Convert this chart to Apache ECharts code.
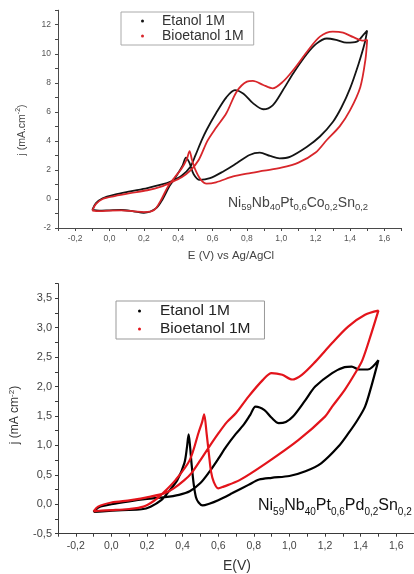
<!DOCTYPE html>
<html>
<head>
<meta charset="utf-8">
<script src="https://cdn.jsdelivr.net/npm/echarts@6/dist/echarts.min.js"></script>
<style>
  html, body { margin: 0; padding: 0; background: #fff; overflow: hidden; }
  #top { position: absolute; left: 0; top: 0; width: 414px; height: 262px; filter: blur(0.4px); }
  #bot { position: absolute; left: 0; top: 262px; width: 414px; height: 312px; }
</style>
</head>
<body>
<div id="top"></div>
<div id="bot"></div>
<script>
// ---- Cyclic voltammograms: Ni59Nb40Pt0,6Co0,2Sn0,2 (upper panel) ----
const coEtanolE = [-0.10,-0.08,-0.04,0.03,0.12,0.22,0.30,0.36,0.42,0.47,0.50,0.535,0.565,0.62,0.68,0.73,0.78,0.835,0.895,0.95,1.01,1.07,1.15,1.205,1.265,1.32,1.38,1.44,1.478,1.50,
  1.485,1.45,1.40,1.35,1.30,1.225,1.15,1.05,0.99,0.935,0.875,0.815,0.74,0.66,0.585,0.525,0.49,0.465,0.445,0.425,0.39,0.35,0.31,0.27,0.20,0.14,0.07,0.0,-0.06,-0.10];
const coEtanolJ = [-0.75,-0.30,0.05,0.30,0.52,0.75,0.98,1.22,1.60,2.20,3.0,4.0,4.75,5.9,7.0,7.5,7.25,6.6,6.18,6.45,7.5,8.66,10.0,10.7,11.05,10.95,10.76,10.83,11.3,11.6,
  10.7,9.3,7.6,6.3,5.3,4.3,3.6,2.9,2.8,2.96,3.19,3.03,2.46,1.88,1.43,1.31,1.7,2.5,2.85,2.3,1.6,0.9,0.0,-0.65,-0.95,-0.85,-0.76,-0.78,-0.8,-0.75];

const coBioE = [-0.10,-0.08,-0.04,0.03,0.12,0.22,0.30,0.36,0.42,0.47,0.52,0.57,0.62,0.68,0.74,0.80,0.835,0.895,0.95,1.01,1.07,1.15,1.225,1.30,1.36,1.42,1.478,1.50,
  1.49,1.46,1.40,1.34,1.265,1.20,1.10,1.0,0.90,0.80,0.72,0.62,0.565,0.53,0.50,0.48,0.466,0.45,0.42,0.38,0.34,0.30,0.26,0.20,0.145,0.07,0.0,-0.06,-0.10];
const coBioJ = [-0.80,-0.35,0.0,0.20,0.40,0.60,0.85,1.15,1.50,1.95,2.70,4.0,4.9,5.9,7.39,8.08,8.13,7.85,7.62,8.08,8.88,10.14,11.18,11.52,11.45,11.14,10.9,10.95,
  9.6,7.7,6.1,5.0,4.06,3.2,2.5,2.15,1.95,1.75,1.55,1.15,1.06,1.35,2.0,2.7,3.3,2.75,2.1,1.5,0.85,-0.07,-0.76,-0.9,-0.85,-0.78,-0.8,-0.84,-0.8];

// ---- Cyclic voltammograms: Ni59Nb40Pt0,6Pd0,2Sn0,2 (lower panel) ----
const pdEtanolE = [-0.10,-0.07,0.0,0.10,0.20,0.30,0.38,0.44,0.50,0.55,0.60,0.645,0.70,0.74,0.78,0.81,0.86,0.90,0.94,0.98,1.02,1.09,1.145,1.24,1.31,1.35,1.39,1.44,1.50,
  1.46,1.425,1.38,1.33,1.275,1.18,1.09,1.0,0.90,0.83,0.77,0.68,0.60,0.55,0.512,0.49,0.475,0.462,0.45,0.442,0.434,0.425,0.41,0.37,0.32,0.28,0.22,0.17,0.06,-0.05,-0.10];
const pdEtanolJ = [-0.13,-0.05,0.0,0.05,0.09,0.12,0.16,0.22,0.36,0.55,0.77,0.98,1.20,1.34,1.52,1.66,1.60,1.47,1.38,1.40,1.49,1.77,2.0,2.23,2.33,2.34,2.29,2.29,2.45,
  2.0,1.66,1.42,1.2,0.98,0.7,0.56,0.48,0.45,0.42,0.33,0.19,0.07,0.01,-0.02,0.03,0.12,0.35,0.7,0.98,1.19,0.98,0.70,0.41,0.21,0.07,-0.04,-0.085,-0.10,-0.12,-0.13];

const pdBioE = [-0.10,-0.075,0.0,0.11,0.22,0.30,0.35,0.41,0.45,0.50,0.55,0.60,0.65,0.70,0.77,0.85,0.90,0.96,1.015,1.07,1.145,1.24,1.33,1.425,1.50,
  1.46,1.41,1.37,1.31,1.24,1.20,1.05,0.87,0.72,0.63,0.60,0.575,0.56,0.548,0.535,0.521,0.51,0.49,0.44,0.36,0.29,0.24,0.18,0.10,0.0,-0.07,-0.10];
const pdBioJ = [-0.12,-0.04,0.03,0.07,0.13,0.19,0.27,0.41,0.53,0.75,0.98,1.2,1.4,1.55,1.83,2.11,2.23,2.2,2.12,2.2,2.42,2.74,3.02,3.22,3.29,
  2.9,2.45,2.23,1.94,1.66,1.49,1.09,0.70,0.41,0.30,0.27,0.38,0.55,0.85,1.2,1.53,1.4,1.22,0.75,0.41,0.19,0.06,-0.04,-0.08,-0.10,-0.11,-0.12];

// ---- Tick label values ----
const potentialTicks = [-0.2, 0.0, 0.2, 0.4, 0.6, 0.8, 1.0, 1.2, 1.4, 1.6];
const coCurrentTicks = [-2, 0, 2, 4, 6, 8, 10, 12];
const pdCurrentTicks = [-0.5, 0.0, 0.5, 1.0, 1.5, 2.0, 2.5, 3.0, 3.5];

const seriesNames = ['Etanol 1M', 'Bioetanol 1M'];

const FONT = '"Liberation Sans", Arial, Helvetica, sans-serif';
const comma = v => v.toFixed(1).replace('.', ',');
const pairs = (E, J) => E.map((e, i) => [e, J[i]]);

function axisBase(color) {
  return {
    type: 'value',
    axisLine: { show: true, onZero: false, lineStyle: { color: color, width: 1 } },
    axisTick: { show: true, inside: false, length: 3, lineStyle: { color: color, width: 1 } },
    splitLine: { show: false }
  };
}

function loopSeries(name, data, color, width) {
  return {
    name: name,
    type: 'line',
    data: data,
    showSymbol: false,
    smooth: 0.3,
    lineStyle: { color: color, width: width },
    itemStyle: { color: color },
    emphasis: { disabled: true },
    z: 3
  };
}

// ---------- upper panel ----------
const topChart = echarts.init(document.getElementById('top'), null, { renderer: 'canvas' });
topChart.setOption({
  animation: false,
  textStyle: { fontFamily: FONT },
  grid: { left: 58, top: 10.2, width: 343.5, height: 217.8 },
  xAxis: Object.assign(axisBase('#4a4a4a'), {
    min: -0.3, max: 1.7, interval: 0.1,
    axisLabel: { customValues: potentialTicks, formatter: comma, fontSize: 8.5, color: '#555', margin: 6, fontFamily: FONT }
  }),
  yAxis: Object.assign(axisBase('#4a4a4a'), {
    min: -2, max: 13, interval: 1,
    axisLabel: { customValues: coCurrentTicks, formatter: v => String(v), fontSize: 8.5, color: '#555', margin: 7, fontFamily: FONT }
  }),
  legend: {
    data: seriesNames,
    orient: 'vertical',
    left: 121, top: 12,
    padding: [2, 10, 2, 20],
    itemGap: 1,
    itemWidth: 3, itemHeight: 3,
    icon: 'circle',
    borderColor: '#aaa', borderWidth: 1,
    selectedMode: false,
    textStyle: { fontSize: 14, color: '#333', fontFamily: FONT, padding: [0, 0, 0, 13] }
  },
  series: [
    loopSeries(seriesNames[0], pairs(coEtanolE, coEtanolJ), '#141414', 1.8),
    loopSeries(seriesNames[1], pairs(coBioE, coBioJ), '#d8262b', 1.8)
  ],
  graphic: [
    {
      type: 'text', left: 228, top: 196,
      style: {
        text: '{m|Ni}{s|59}{m|Nb}{s|40}{m|Pt}{s|0,6}{m|Co}{s|0,2}{m|Sn}{s|0,2}',
        fill: '#444', fontFamily: FONT,
        rich: {
          m: { fontSize: 14, lineHeight: 18, fill: '#444', fontFamily: FONT },
          s: { fontSize: 9.5, lineHeight: 6, verticalAlign: 'bottom', fill: '#444', fontFamily: FONT }
        }
      }
    },
    {
      type: 'text', x: 231, y: 256,
      style: { text: 'E (V) vs Ag/AgCl', fontSize: 11.5, fill: '#444', fontFamily: FONT, align: 'center', verticalAlign: 'middle' }
    },
    {
      type: 'text', x: 22, y: 130, rotation: Math.PI / 2,
      style: {
        text: '{m|j (mA.cm}{p|-2}{m|)}',
        align: 'center', verticalAlign: 'middle', fontFamily: FONT,
        rich: {
          m: { fontSize: 10.5, lineHeight: 14, fill: '#444', fontFamily: FONT },
          p: { fontSize: 7, lineHeight: 8, verticalAlign: 'top', fill: '#444', fontFamily: FONT }
        }
      }
    }
  ]
});

// ---------- lower panel ----------
const botChart = echarts.init(document.getElementById('bot'), null, { renderer: 'canvas' });
botChart.setOption({
  animation: false,
  textStyle: { fontFamily: FONT },
  grid: { left: 58, top: 21.6, width: 358, height: 250.1 },
  xAxis: Object.assign(axisBase('#3a3a3a'), {
    min: -0.3, max: 1.7, interval: 0.1,
    axisLabel: { customValues: potentialTicks, formatter: comma, fontSize: 10.5, color: '#444', margin: 7, fontFamily: FONT }
  }),
  yAxis: Object.assign(axisBase('#3a3a3a'), {
    min: -0.5, max: 3.75, interval: 0.25,
    axisLabel: { customValues: pdCurrentTicks, formatter: comma, fontSize: 11, color: '#444', margin: 6, fontFamily: FONT }
  }),
  legend: {
    data: seriesNames,
    orient: 'vertical',
    left: 116, top: 39,
    padding: [2, 14, 2, 22],
    itemGap: 2,
    itemWidth: 3, itemHeight: 3,
    icon: 'circle',
    borderColor: '#999', borderWidth: 1,
    selectedMode: false,
    textStyle: { fontSize: 15.5, color: '#222', fontFamily: FONT, padding: [0, 0, 0, 14] }
  },
  series: [
    loopSeries(seriesNames[0], pairs(pdEtanolE, pdEtanolJ), '#000000', 2.2),
    loopSeries(seriesNames[1], pairs(pdBioE, pdBioJ), '#e3141b', 2.2)
  ],
  graphic: [
    {
      type: 'text', left: 258, top: 236,
      style: {
        text: '{m|Ni}{s|59}{m|Nb}{s|40}{m|Pt}{s|0,6}{m|Pd}{s|0,2}{m|Sn}{s|0,2}',
        fill: '#111', fontFamily: FONT,
        rich: {
          m: { fontSize: 16, lineHeight: 22, fill: '#111', fontFamily: FONT },
          s: { fontSize: 10, lineHeight: 6, verticalAlign: 'bottom', fill: '#111', fontFamily: FONT }
        }
      }
    },
    {
      type: 'text', x: 237, y: 304,
      style: { text: 'E(V)', fontSize: 14, fill: '#333', fontFamily: FONT, align: 'center', verticalAlign: 'middle' }
    },
    {
      type: 'text', x: 15, y: 153, rotation: Math.PI / 2,
      style: {
        text: '{m|j (mA cm}{p|-2}{m|)}',
        align: 'center', verticalAlign: 'middle', fontFamily: FONT,
        rich: {
          m: { fontSize: 12, lineHeight: 15, fill: '#333', fontFamily: FONT },
          p: { fontSize: 8, lineHeight: 9, verticalAlign: 'top', fill: '#333', fontFamily: FONT }
        }
      }
    }
  ]
});
</script>
</body>
</html>
